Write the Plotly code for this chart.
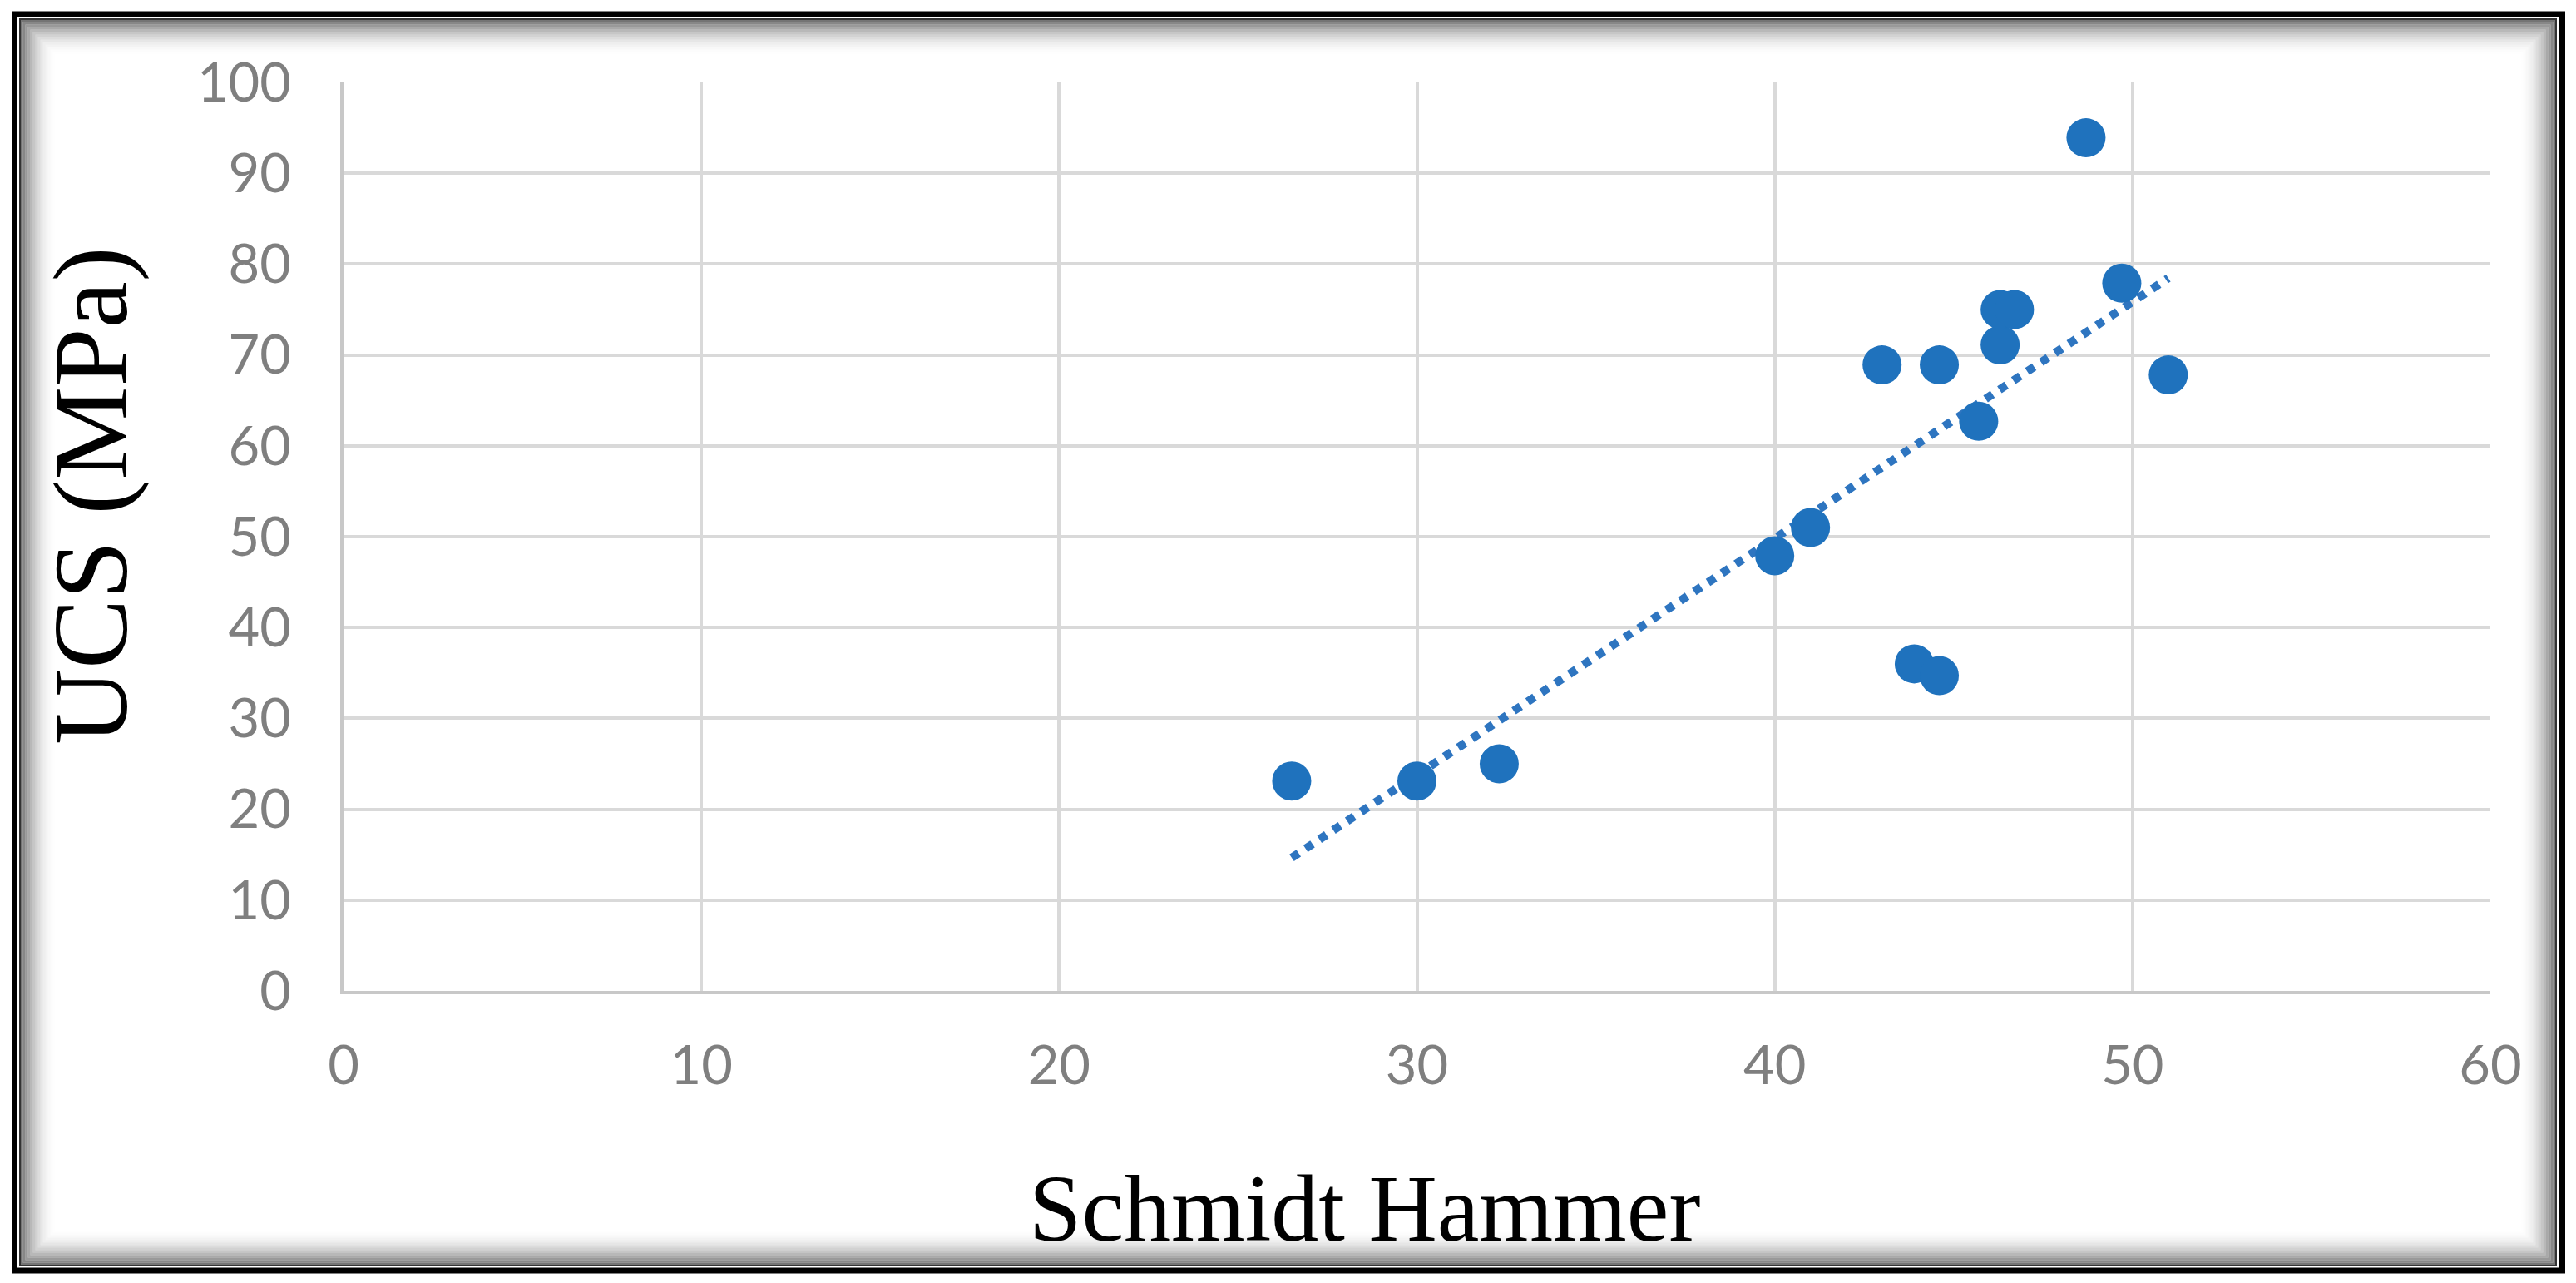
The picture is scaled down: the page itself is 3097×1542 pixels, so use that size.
import numpy as np
import plotly.graph_objects as go

# odczyty z wykresu
schmidt = [26.5, 30.0, 32.3, 40.0, 41.0, 43.0, 44.6, 43.9, 44.6, 45.7, 46.3, 46.3, 46.7, 48.7, 49.7, 51.0]
ucs = [23.1, 23.1, 25.0, 47.9, 51.0, 68.9, 68.9, 36.0, 34.7, 62.7, 71.1, 75.0, 75.0, 93.9, 77.9, 67.8]

x_ticks = [0, 10, 20, 30, 40, 50, 60]
y_ticks = [0, 10, 20, 30, 40, 50, 60, 70, 80, 90, 100]

# linia trendu (regresja liniowa jak w Excelu)
a, b = np.polyfit(schmidt, ucs, 1)
trend_x = [min(schmidt), max(schmidt)]
trend_y = [a * v + b for v in trend_x]

W, H = 3097, 1542
OFF = 8  # margines strony w przegladarce
L, R, T, B = 413 - OFF, 2994 - OFF, 99 - OFF, 1191 - OFF  # obszar wykresu [px]
PW, PH = R - L, B - T


def px(xs):
    return (xs - OFF - L) / PW


def py(ys):
    return (B - (ys - OFF)) / PH


blue = "#1F72BD"
grid = "#D9D9D9"

fig = go.Figure()
fig.add_trace(go.Scatter(x=trend_x, y=trend_y, mode="lines",
                         line=dict(color="#2E75C0", width=10, dash="10px,10px"),
                         hoverinfo="skip", showlegend=False))
fig.add_trace(go.Scatter(x=schmidt, y=ucs, mode="markers",
                         marker=dict(color=blue, size=47, line=dict(width=0)),
                         showlegend=False))

axis_common = dict(showgrid=True, gridcolor=grid, gridwidth=4, zeroline=False,
                   showline=True, linecolor="#C8C8C8", linewidth=4, ticks="",
                   tickfont=dict(family="Lato, Open Sans, sans-serif", size=65, color="#7F7F7F"))

fig.update_xaxes(range=[0, 60], tickvals=x_ticks, ticklabelstandoff=30, **axis_common)
fig.update_yaxes(range=[0, 100], tickvals=y_ticks, ticklabelstandoff=46, **axis_common)

# ramka zewnętrzna i cień wewnętrzny
x_in0, x_in1, y_in0, y_in1 = 24, 3073, 23, 1521
shapes = []
for i in range(14):
    ins = 2 + i * 3
    op = 0.75 * (1 - i / 14) ** 2
    shapes.append(dict(type="rect", xref="paper", yref="paper",
                       x0=px(x_in0 + ins), x1=px(x_in1 - ins), y0=py(y_in0 + ins), y1=py(y_in1 - ins),
                       line=dict(color="rgba(70,70,70,%.3f)" % op, width=3)))
shapes.append(dict(type="rect", xref="paper", yref="paper",
                   x0=px(x_in0), x1=px(x_in1), y0=py(y_in0), y1=py(y_in1),
                   line=dict(color="#333333", width=2)))
shapes.append(dict(type="rect", xref="paper", yref="paper",
                   x0=px(17.5), x1=px(3080.5), y0=py(17), y1=py(1527),
                   line=dict(color="black", width=7)))

annotations = [
    dict(text="Schmidt Hammer", xref="paper", yref="paper", x=px(1640), y=py(1452),
         showarrow=False, xanchor="center", yanchor="middle",
         font=dict(family="Liberation Serif, Times New Roman, serif", size=114, color="black")),
    dict(text="UCS (MPa)", xref="paper", yref="paper", x=px(110), y=py(596),
         showarrow=False, xanchor="center", yanchor="middle", textangle=-90,
         font=dict(family="Liberation Serif, Times New Roman, serif", size=126, color="black")),
]

fig.update_layout(width=W, height=H, margin=dict(l=L, r=W - R, t=T, b=H - B),
                  paper_bgcolor="white", plot_bgcolor="white",
                  shapes=shapes, annotations=annotations)

fig.write_html("out.html")
